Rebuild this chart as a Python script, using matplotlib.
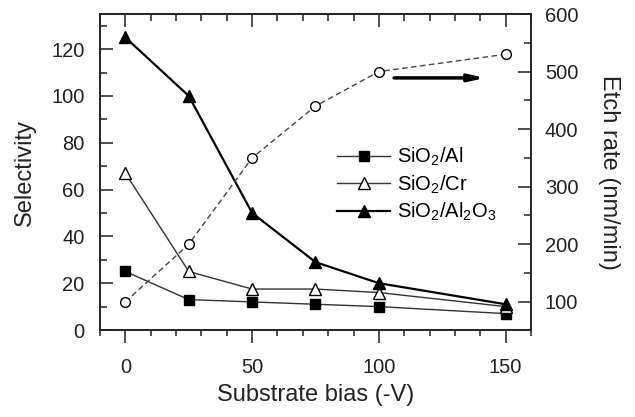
import matplotlib
matplotlib.use("Agg")
import matplotlib.pyplot as plt
from matplotlib.ticker import MultipleLocator

plt.rcParams['font.family'] = ['Liberation Sans', 'DejaVu Sans']

# substrate bias (-V)
bias = [0, 25, 50, 75, 100, 150]

# selectivity (left axis)
sel_al = [25, 13, 12, 11, 10, 7]
sel_cr = [67, 25, 17.5, 17.5, 16, 10]
sel_al2o3 = [125, 100, 50, 29, 20, 11]

# etch rate (right axis), nm/min
etch_rate = [100, 200, 350, 440, 500, 530]

FS = 14.5
LFS = 17

fig = plt.figure(figsize=(6.35, 4.17), dpi=100)
ax = fig.add_axes([0.1575, 0.2086, 0.6787, 0.7578])
ax2 = ax.twinx()

l_al, = ax.plot(bias, sel_al, '-s', color='#333333', lw=1.0, ms=6.5,
                mfc='black', mec='black', label=r'SiO$_\mathregular{2}$/Al')
l_cr, = ax.plot(bias, sel_cr, '-^', color='#333333', lw=1.0, ms=8.5,
                mfc='white', mec='black', mew=1.0, label=r'SiO$_\mathregular{2}$/Cr')
l_ox, = ax.plot(bias, sel_al2o3, '-^', color='black', lw=1.6, ms=9,
                mfc='black', mec='black',
                label=r'SiO$_\mathregular{2}$/Al$_\mathregular{2}$O$_\mathregular{3}$')

ax2.plot(bias, etch_rate, '--o', color='#444444', lw=1.0, ms=7,
         mfc='white', mec='black', mew=1.0, dashes=(4, 2.5))

ax.set_xlim(-10, 160)
ax.set_ylim(0, 135)
ax2.set_ylim(51, 600)

ax.xaxis.set_major_locator(MultipleLocator(50))
ax.xaxis.set_minor_locator(MultipleLocator(10))
ax.yaxis.set_major_locator(MultipleLocator(20))
ax.yaxis.set_minor_locator(MultipleLocator(10))
ax2.yaxis.set_major_locator(MultipleLocator(100))
ax2.yaxis.set_minor_locator(MultipleLocator(50))

for a in (ax, ax2):
    for s in a.spines.values():
        s.set_linewidth(1.2)
        s.set_color('#222222')

# bottom ticks outward, top / left / right ticks inward
ax.tick_params(axis='x', which='both', direction='out', top=False,
               labelsize=FS, pad=11, colors='#222222')
ax.tick_params(axis='x', which='major', length=9, width=1.1)
ax.tick_params(axis='x', which='minor', length=4.5, width=1.1)
ax.tick_params(axis='y', which='both', direction='in', labelsize=FS, pad=11,
               colors='#222222')
ax.tick_params(axis='y', which='major', length=9.5, width=1.1)
ax.tick_params(axis='y', which='minor', length=5, width=1.1)

ax2.xaxis.set_visible(True)
ax2.tick_params(axis='x', which='both', direction='in', top=True, bottom=False,
                labeltop=False, labelbottom=False, colors='#222222')
ax2.tick_params(axis='x', which='major', length=9, width=1.1)
ax2.tick_params(axis='x', which='minor', length=5, width=1.1)
ax2.tick_params(axis='y', which='both', direction='in', labelsize=FS, pad=10,
                colors='#222222')
ax2.tick_params(axis='y', which='major', length=9.5, width=1.1)
ax2.tick_params(axis='y', which='minor', length=5, width=1.1)

ax.set_xlabel('Substrate bias (-V)', fontsize=LFS, color='#222222', labelpad=5)
ax.set_ylabel('Selectivity', fontsize=LFS, color='#222222', labelpad=11)
ax2.set_ylabel('Etch rate (nm/min)', fontsize=LFS, color='#222222',
               rotation=270, labelpad=30)

# arrow pointing to the etch rate axis
ax2.annotate('', xy=(142, 489), xytext=(106, 489),
             arrowprops=dict(arrowstyle='-|>,head_length=0.9,head_width=0.2',
                             lw=2.5, color='black', shrinkA=0, shrinkB=0))

ax2.legend(handles=[l_al, l_cr, l_ox], loc='upper left',
           bbox_to_anchor=(0.551, 0.582), frameon=False, fontsize=FS,
           handlelength=2.6, handletextpad=0.35, labelspacing=0.25,
           borderpad=0, borderaxespad=0)

fig.savefig('out.png', dpi=100)
